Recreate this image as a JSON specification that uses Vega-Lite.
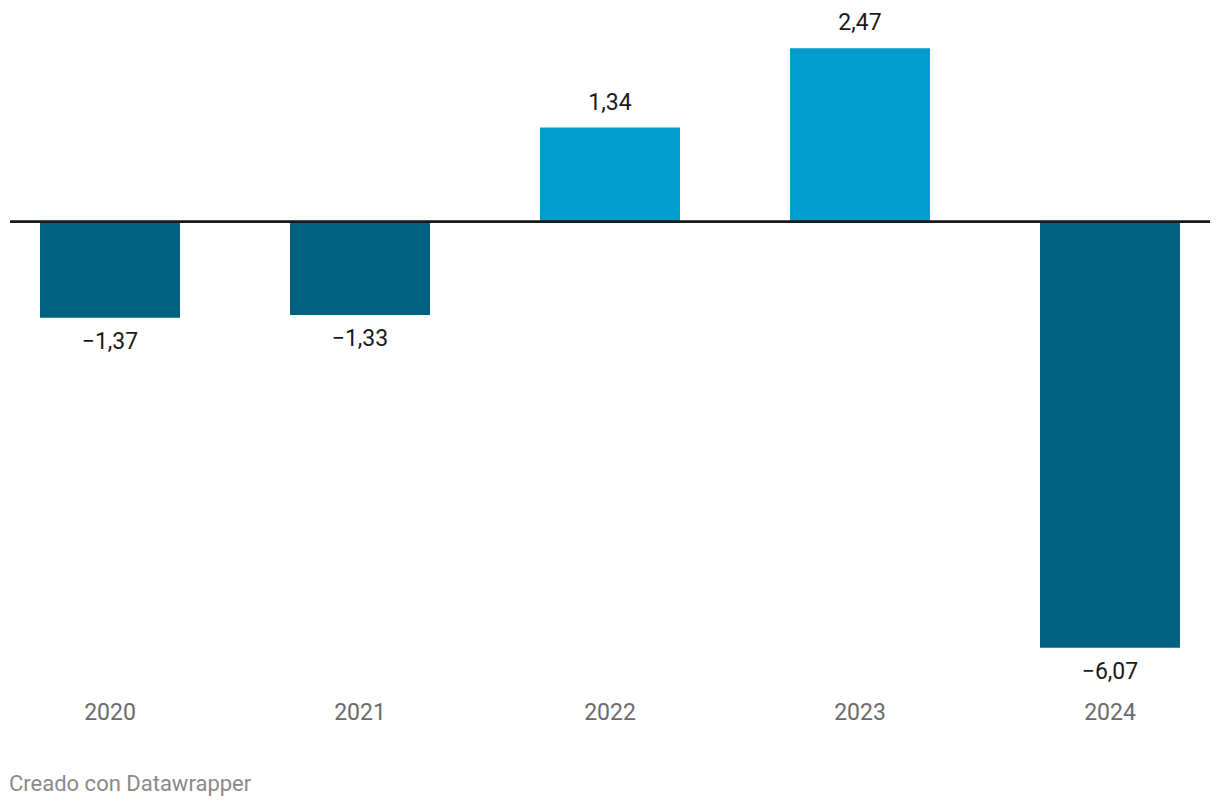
{
  "$schema": "https://vega.github.io/schema/vega-lite/v6.json",
  "width": 1200,
  "height": 667,
  "autosize": {"type": "none"},
  "padding": {"left": 10, "top": 11, "right": 10, "bottom": 130},
  "background": "white",
  "config": {
    "view": {"stroke": null},
    "font": "Roboto",
    "locale": {"number": {"decimal": ",", "thousands": ".", "grouping": [3], "currency": ["", " €"], "minus": "−"}}
  },
  "title": {
    "text": "Creado con Datawrapper",
    "orient": "bottom",
    "anchor": "start",
    "baseline": "top",
    "fontSize": 22,
    "fontWeight": "normal",
    "color": "#8a8a8a",
    "font": "Roboto",
    "offset": 50
  },
  "data": {
    "values": [
      {"year": "2020", "value": -1.37},
      {"year": "2021", "value": -1.33},
      {"year": "2022", "value": 1.34},
      {"year": "2023", "value": 2.47},
      {"year": "2024", "value": -6.07}
    ]
  },
  "encoding": {
    "x": {
      "field": "year",
      "type": "nominal",
      "scale": {"paddingInner": 0.44, "paddingOuter": 0.12},
      "axis": {
        "title": null,
        "domain": false,
        "ticks": false,
        "labelAngle": 0,
        "labelFontSize": 23,
        "labelColor": "#6b6b6b",
        "labelFont": "Roboto",
        "labelPadding": 23
      }
    },
    "y": {
      "field": "value",
      "type": "quantitative",
      "scale": {"domain": [-6.5, 3.0], "nice": false, "zero": true},
      "axis": null
    }
  },
  "layer": [
    {
      "mark": {"type": "bar"},
      "encoding": {
        "color": {
          "condition": {"test": "datum.value < 0", "value": "#006280"},
          "value": "#009dcc"
        }
      }
    },
    {
      "transform": [{"filter": "datum.value >= 0"}],
      "mark": {"type": "text", "baseline": "middle", "dy": -25, "fontSize": 23, "color": "#1a1a1a"},
      "encoding": {"text": {"field": "value", "type": "quantitative", "format": ".2f"}}
    },
    {
      "transform": [{"filter": "datum.value < 0"}],
      "mark": {"type": "text", "baseline": "middle", "dy": 24, "fontSize": 23, "color": "#1a1a1a"},
      "encoding": {"text": {"field": "value", "type": "quantitative", "format": ".2f"}}
    },
    {
      "mark": {"type": "rule", "color": "#1a1a1a", "strokeWidth": 2},
      "encoding": {"y": {"datum": 0}, "x": {"value": 0}, "x2": {"value": 1200}}
    }
  ]
}
